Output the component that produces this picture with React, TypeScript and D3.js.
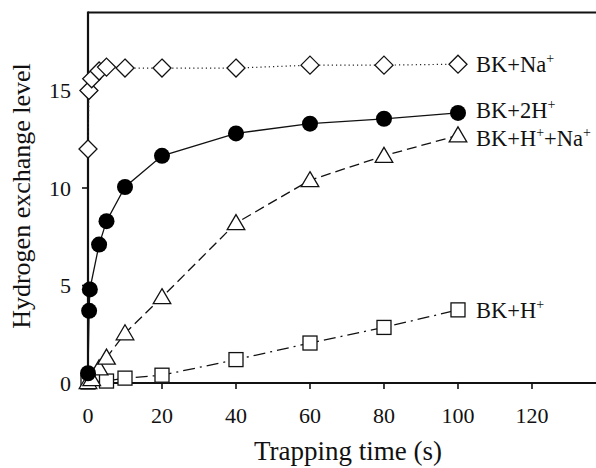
import React from "react";
import * as d3 from "d3";

const xTicks = [0, 20, 40, 60, 80, 100, 120];
const yTicks = [0, 5, 10, 15];

const naX = [0, 0.25, 1, 3, 5, 10, 20, 40, 60, 80, 100];
const naY = [12.0, 15.0, 15.6, 16.0, 16.2, 16.15, 16.15, 16.15, 16.3, 16.3, 16.35];

const h2X = [0, 0.3, 0.5, 3, 5, 10, 20, 40, 60, 80, 100];
const h2Y = [0.5, 3.7, 4.8, 7.1, 8.3, 10.05, 11.65, 12.8, 13.3, 13.55, 13.85];

const hnaX = [0, 1, 3, 5, 10, 20, 40, 60, 80, 100];
const hnaY = [0.05, 0.2, 0.75, 1.3, 2.55, 4.4, 8.2, 10.4, 11.65, 12.7];

const hX = [0, 5, 10, 20, 40, 60, 80, 100];
const hY = [0.05, 0.1, 0.25, 0.4, 1.2, 2.05, 2.85, 3.75];

const W = 596;
const H = 468;

export default function App() {
  const x = d3.scaleLinear().domain([0, 137.3]).range([88, 596]);
  const y = d3.scaleLinear().domain([0, 19]).range([383, 12.5]);

  const line = d3
    .line<[number, number]>()
    .x((d) => x(d[0]))
    .y((d) => y(d[1]));

  const pts = (xs: number[], ys: number[]) => xs.map((v, i) => [v, ys[i]] as [number, number]);

  const na = pts(naX, naY);
  const h2 = pts(h2X, h2Y);
  const hna = pts(hnaX, hnaY);
  const h = pts(hX, hY);

  const diamond = (cx: number, cy: number, r = 9) =>
    `M${cx},${cy - r}L${cx + r},${cy}L${cx},${cy + r}L${cx - r},${cy}Z`;
  const triangle = (cx: number, cy: number) =>
    `M${cx},${cy - 8.5}L${cx + 8.8},${cy + 6.5}L${cx - 8.8},${cy + 6.5}Z`;

  const legendX = x(100) + 18;
  const lbl = (d: [number, number], off: number, parts: React.ReactNode) => (
    <text x={legendX} y={y(d[1]) + off} fontSize={22.5} fill="#111">
      {parts}
    </text>
  );
  const sup = (s: string) => (
    <tspan fontSize={14} dy={-9}>
      {s}
    </tspan>
  );
  const down = (s: string) => <tspan dy={9}>{s}</tspan>;

  const lastNa = na[na.length - 1];
  const lastH2 = h2[h2.length - 1];
  const lastHna = hna[hna.length - 1];
  const lastH = h[h.length - 1];

  return (
    <svg
      width={W}
      height={H}
      style={{ position: "absolute", left: 0, top: 0, background: "#fff", fontFamily: '"Liberation Serif"' }}
    >
      <rect width={W} height={H} fill="#fff" />
      {/* axes */}
      <line x1={88} y1={12.5} x2={596} y2={12.5} stroke="#111" strokeWidth={2.2} />
      <line x1={88} y1={11.5} x2={88} y2={384} stroke="#111" strokeWidth={2.2} />
      <line x1={87} y1={383} x2={596} y2={383} stroke="#111" strokeWidth={2.2} />
      {xTicks.map((t) => (
        <g key={"xt" + t}>
          <line x1={x(t)} x2={x(t)} y1={383} y2={389} stroke="#111" strokeWidth={1.6} />
          <text x={x(t)} y={423} textAnchor="middle" fontSize={22} fill="#111">
            {t}
          </text>
        </g>
      ))}
      {yTicks.map((t) => (
        <g key={"yt" + t}>
          <line x1={82} x2={88} y1={y(t)} y2={y(t)} stroke="#111" strokeWidth={1.6} />
          <text x={71} y={y(t)} dy="0.35em" textAnchor="end" fontSize={22} fill="#111">
            {t}
          </text>
        </g>
      ))}
      <text x={348} y={460} textAnchor="middle" fontSize={27} fill="#111">
        Trapping time (s)
      </text>
      <text
        transform={`translate(30,196) rotate(-90)`}
        textAnchor="middle"
        fontSize={26}
        fill="#111"
      >
        Hydrogen exchange level
      </text>

      {/* lines */}
      <path d={line(na) || ""} fill="none" stroke="#222" strokeWidth={1.2} strokeDasharray="1.2,3" />
      <path d={line(h2) || ""} fill="none" stroke="#111" strokeWidth={1.3} />
      <path d={line(hna) || ""} fill="none" stroke="#111" strokeWidth={1.3} strokeDasharray="10,5" />
      <path d={line(h) || ""} fill="none" stroke="#111" strokeWidth={1.3} strokeDasharray="12,5,2,5" />

      {/* markers */}
      {h.map((d, i) => (
        <rect
          key={"s" + i}
          x={x(d[0]) - 7}
          y={y(d[1]) - 7}
          width={14}
          height={14}
          fill="#fff"
          stroke="#111"
          strokeWidth={1.3}
        />
      ))}
      {hna.map((d, i) => (
        <path key={"t" + i} d={triangle(x(d[0]), y(d[1]))} fill="#fff" stroke="#111" strokeWidth={1.3} />
      ))}
      {h2.map((d, i) => (
        <circle key={"c" + i} cx={x(d[0])} cy={y(d[1])} r={8} fill="#000" />
      ))}
      {na.map((d, i) => (
        <path key={"d" + i} d={diamond(x(d[0]), y(d[1]))} fill="#fff" stroke="#111" strokeWidth={1.3} />
      ))}

      {/* labels */}
      {lbl(lastNa, 8, <>BK+Na{sup("+")}</>)}
      {lbl(lastH2, 5, <>BK+2H{sup("+")}</>)}
      {lbl(lastHna, 11, <>BK+H{sup("+")}{down("+Na")}{sup("+")}</>)}
      {lbl(lastH, 8, <>BK+H{sup("+")}</>)}
    </svg>
  );
}
